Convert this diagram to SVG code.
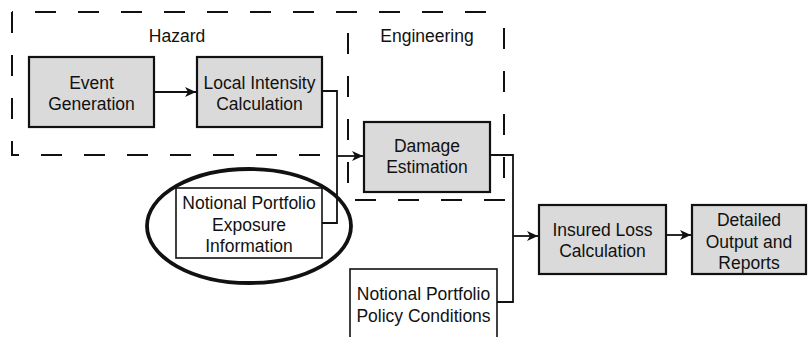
<svg xmlns="http://www.w3.org/2000/svg" width="811" height="337" viewBox="0 0 811 337">
<defs>
<style>
text{font-family:"Liberation Sans",Arial,sans-serif;font-size:17.5px;fill:#111;text-anchor:middle}
.box{fill:#dadada;stroke:#111;stroke-width:2.2}
.wbox{fill:#fff;stroke:#111;stroke-width:1.6}
.dash{fill:none;stroke:#111;stroke-width:2;stroke-dasharray:21 22}
.conn{fill:none;stroke:#111;stroke-width:1.8}
</style>
<marker id="arr" markerWidth="12" markerHeight="10" refX="11" refY="5" orient="auto" markerUnits="userSpaceOnUse">
<path d="M0,0 L11,5 L0,10 L3,5 z" fill="#111"/>
</marker>
</defs>
<g id="hazard-group">
<line class="dash" x1="12" y1="12" x2="504" y2="12" stroke-dashoffset="20"/>
<line class="dash" x1="12" y1="12" x2="12" y2="156" stroke-dashoffset="0"/>
<line class="dash" x1="11" y1="155" x2="340" y2="155" stroke-dashoffset="13"/>
<text x="177" y="42">Hazard</text>
</g>
<g id="engineering-group">
<line class="dash" x1="348" y1="12" x2="348" y2="200" stroke-dashoffset="22"/>
<line class="dash" x1="504" y1="12" x2="504" y2="200" stroke-dashoffset="27"/>
<line class="dash" x1="348" y1="200" x2="505" y2="200" stroke-dashoffset="36"/>
<text x="427" y="42">Engineering</text>
</g>
<g id="connectors">
<line class="conn" x1="154" y1="92" x2="196" y2="92" marker-end="url(#arr)"/>
<polyline class="conn" points="322,91 337,91 337,223 322,223"/>
<line class="conn" x1="337" y1="156" x2="363" y2="156" marker-end="url(#arr)"/>
<polyline class="conn" points="490,155 513,155 513,302 497,302"/>
<line class="conn" x1="513" y1="236" x2="538" y2="236" marker-end="url(#arr)"/>
<line class="conn" x1="666" y1="235" x2="691" y2="235" marker-end="url(#arr)"/>
</g>
<g id="event-generation">
<rect class="box" x="29" y="57" width="125" height="70"/>
<text x="91.5" y="89">Event</text>
<text x="91.5" y="110">Generation</text>
</g>
<g id="local-intensity">
<rect class="box" x="197" y="57" width="125" height="70"/>
<text x="259.5" y="89">Local Intensity</text>
<text x="259.5" y="110">Calculation</text>
</g>
<g id="damage-estimation">
<rect class="box" x="364" y="122" width="126" height="70"/>
<text x="427" y="152">Damage</text>
<text x="427" y="173">Estimation</text>
</g>
<g id="exposure">
<rect class="wbox" x="176" y="188" width="146" height="70"/>
<text x="249" y="209">Notional Portfolio</text>
<text x="249" y="231">Exposure</text>
<text x="249" y="252">Information</text>
<ellipse cx="249" cy="226" rx="102" ry="57" fill="none" stroke="#111" stroke-width="3.8"/>
</g>
<g id="policy">
<rect class="wbox" x="350" y="269" width="147" height="80"/>
<text x="423.5" y="300">Notional Portfolio</text>
<text x="423.5" y="322">Policy Conditions</text>
</g>
<g id="insured-loss">
<rect class="box" x="539" y="205" width="127" height="69"/>
<text x="602.5" y="236">Insured Loss</text>
<text x="602.5" y="257">Calculation</text>
</g>
<g id="detailed-output">
<rect class="box" x="692" y="205" width="114" height="69"/>
<text x="749" y="226">Detailed</text>
<text x="749" y="248">Output and</text>
<text x="749" y="269">Reports</text>
</g>
</svg>
